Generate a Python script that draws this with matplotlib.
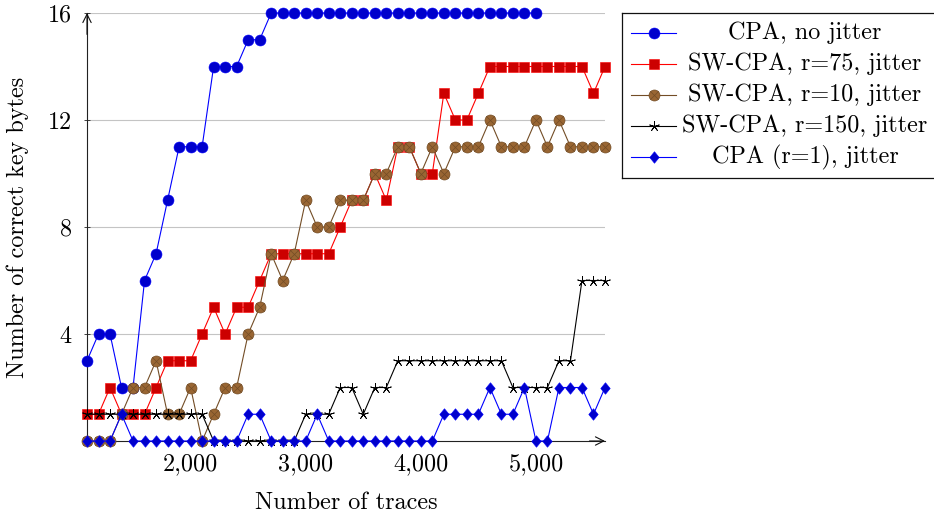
import matplotlib
matplotlib.use('Agg')
import matplotlib.pyplot as plt
from matplotlib.path import Path
import numpy as np

plt.rcParams['font.family'] = ['cmr10']
plt.rcParams['mathtext.fontset'] = 'cm'
plt.rcParams['axes.unicode_minus'] = False
plt.rcParams['axes.formatter.use_mathtext'] = True

# ---------------- data ----------------
traces = [1100, 1200, 1300, 1400, 1500, 1600, 1700, 1800, 1900, 2000,
          2100, 2200, 2300, 2400, 2500, 2600, 2700, 2800, 2900, 3000,
          3100, 3200, 3300, 3400, 3500, 3600, 3700, 3800, 3900, 4000,
          4100, 4200, 4300, 4400, 4500, 4600, 4700, 4800, 4900, 5000,
          5100, 5200, 5300, 5400, 5500, 5600]

cpa_nojitter = [3, 4, 4, 2, 2, 6, 7, 9, 11, 11, 11, 14, 14, 14, 15, 15,
                16, 16, 16, 16, 16, 16, 16, 16, 16, 16, 16, 16, 16, 16,
                16, 16, 16, 16, 16, 16, 16, 16, 16, 16]

swcpa_r75 = [1, 1, 2, 1, 1, 1, 2, 3, 3, 3,
             4, 5, 4, 5, 5, 6, 7, 7, 7, 7,
             7, 7, 8, 9, 9, 10, 9, 11, 11, 10,
             10, 13, 12, 12, 13, 14, 14, 14, 14, 14,
             14, 14, 14, 14, 13, 14]

swcpa_r10 = [0, 0, 0, 1, 2, 2, 3, 1, 1, 2,
             0, 1, 2, 2, 4, 5, 7, 6, 7, 9,
             8, 8, 9, 9, 9, 10, 10, 11, 11, 10,
             11, 10, 11, 11, 11, 12, 11, 11, 11, 12,
             11, 12, 11, 11, 11, 11]

swcpa_r150 = [1, 1, 1, 1, 1, 1, 1, 1, 1, 1,
              1, 0, 0, 0, 0, 0, 0, 0, 0, 1,
              1, 1, 2, 2, 1, 2, 2, 3, 3, 3,
              3, 3, 3, 3, 3, 3, 3, 2, 2, 2,
              2, 3, 3, 6, 6, 6]

cpa_r1_jitter = [0, 0, 0, 1, 0, 0, 0, 0, 0, 0,
                 0, 0, 0, 0, 1, 1, 0, 0, 0, 0,
                 1, 0, 0, 0, 0, 0, 0, 0, 0, 0,
                 0, 1, 1, 1, 1, 2, 1, 1, 2, 0,
                 0, 2, 2, 2, 1, 2]

series_labels = ['CPA, no jitter', 'SW-CPA, r=75, jitter', 'SW-CPA, r=10, jitter',
                 'SW-CPA, r=150, jitter', 'CPA (r=1), jitter']
xtick_values = [2000, 3000, 4000, 5000]
xtick_labels = ['2,000', '3,000', '4,000', '5,000']
ytick_values = [4, 8, 12, 16]
ytick_labels = ['4', '8', '12', '16']

FS = 17.4

# ---------------- markers ----------------
otimes = Path.make_compound_path(
    Path.unit_circle(),
    Path([(-0.7071, -0.7071), (0.7071, 0.7071)], [Path.MOVETO, Path.LINETO]),
    Path([(-0.7071, 0.7071), (0.7071, -0.7071)], [Path.MOVETO, Path.LINETO]),
)
diamond = Path([(0, 1), (0.82, 0), (0, -1), (-0.82, 0), (0, 1)],
               [Path.MOVETO, Path.LINETO, Path.LINETO, Path.LINETO, Path.CLOSEPOLY])

styles = [
    dict(color='#0000FF', marker='o', ms=7.9, mfc='#0000CC', mec='#0000FF', mew=0.4),
    dict(color='#FF0000', marker='s', ms=7.3, mfc='#CC0000', mec='#FF0000', mew=0.4),
    dict(color='#734D26', marker=otimes, ms=7.9, mfc='#996633', mec='#734D26', mew=0.5),
    dict(color='#000000', marker=(5, 2, 0), ms=7.5, mfc='#000000', mec='#000000', mew=0.6),
    dict(color='#0000FF', marker=diamond, ms=8.3, mfc='#0000CC', mec='#0000FF', mew=0.4),
]

W, H = 934, 519
fig = plt.figure(figsize=(W / 100, H / 100), dpi=100)
ax = fig.add_axes([87 / W, (H - 441) / H, (605 - 87) / W, (441 - 13) / H])

data = [(traces[:len(cpa_nojitter)], cpa_nojitter),
        (traces, swcpa_r75),
        (traces, swcpa_r10),
        (traces, swcpa_r150),
        (traces, cpa_r1_jitter)]

for i, ((xs, ys), st) in enumerate(zip(data, styles)):
    ax.plot(xs, ys, lw=0.8, clip_on=False, zorder=3 + i, **st)

ax.set_xlim(1100, 5600)
ax.set_ylim(0, 16)
ax.set_xticks(xtick_values)
ax.set_xticklabels(xtick_labels)
ax.set_yticks(ytick_values)
ax.set_yticklabels(ytick_labels)
ax.yaxis.grid(True, color='#c4c4c4', lw=0.8, zorder=0)
ax.set_axisbelow(True)
for s in ['top', 'right']:
    ax.spines[s].set_visible(False)
for s in ['left', 'bottom']:
    ax.spines[s].set_color('#222222')
    ax.spines[s].set_linewidth(0.8)
ax.tick_params(axis='both', direction='inout', length=4, width=0.6,
               color='#222222', labelsize=FS)
ax.tick_params(axis='y', pad=9)
ax.tick_params(axis='x', pad=7)
ax.patch.set_alpha(0)

arrow = dict(arrowstyle='->, head_length=0.6, head_width=0.3', color='#111111', lw=0.8,
             shrinkA=0, shrinkB=0)
ax.annotate('', xy=(0, 1.0), xytext=(0, 0.95), xycoords='axes fraction',
            arrowprops=arrow, annotation_clip=False)
ax.annotate('', xy=(1.0, 0), xytext=(0.97, 0), xycoords='axes fraction',
            arrowprops=arrow, annotation_clip=False)

fig.text(346 / W, 1 - 503 / H, 'Number of traces', ha='center', va='center', fontsize=FS)
fig.text(18 / W, 1 - 227 / H, 'Number of correct key bytes', ha='center', va='center',
         rotation=90, fontsize=FS)

# ---------------- legend ----------------
lx0, lx1, ly0, ly1 = 622, 934.6, 13, 178
leg = fig.add_axes([lx0 / W, 1 - ly1 / H, (lx1 - lx0) / W, (ly1 - ly0) / H])
leg.set_xlim(lx0, lx1)
leg.set_ylim(ly1, ly0)
leg.set_xticks([])
leg.set_yticks([])
for s in leg.spines.values():
    s.set_color('#111111')
    s.set_linewidth(0.9)
entry_y = [33, 64, 95, 126, 157]
for lab, st, yy in zip(series_labels, styles, entry_y):
    leg.plot([631, 676], [yy, yy], color=st['color'], lw=0.8)
    mst = {k: v for k, v in st.items() if k != 'color'}
    leg.plot([653.5], [yy], color=st['color'], lw=0, **mst)
    leg.text(805, yy, lab, ha='center', va='center', fontsize=FS)

fig.savefig('out.png', dpi=100)
